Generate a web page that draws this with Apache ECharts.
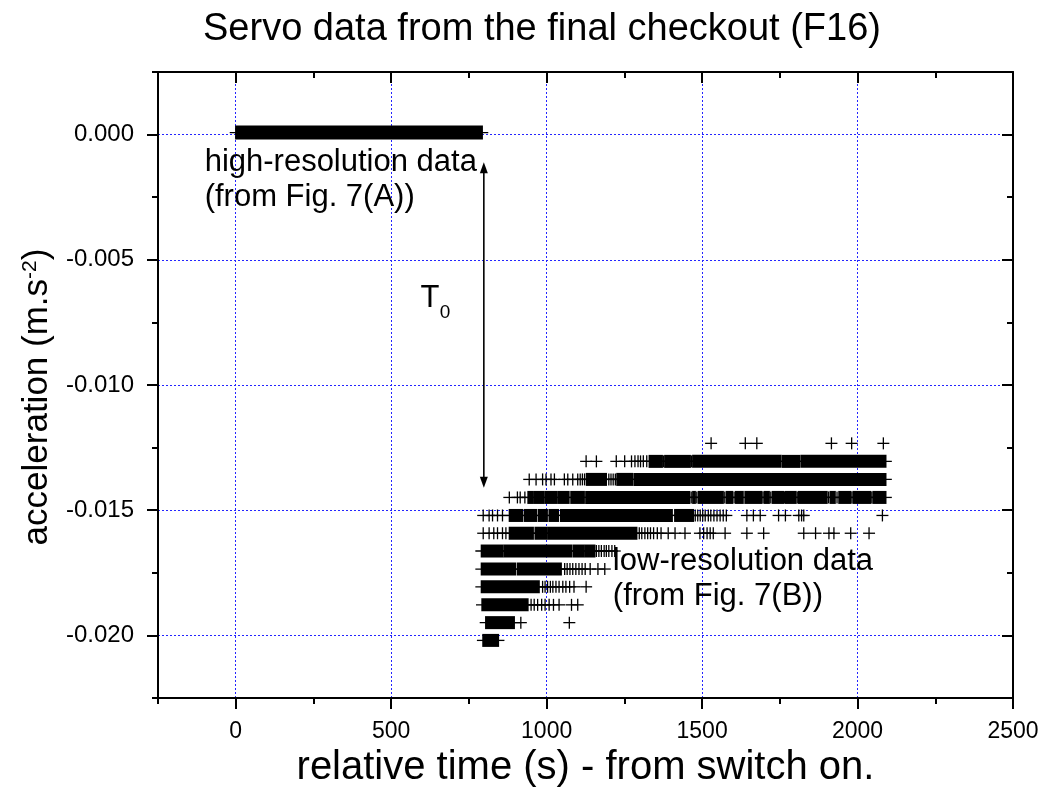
<!DOCTYPE html>
<html>
<head>
<meta charset="utf-8">
<script src="https://cdn.jsdelivr.net/npm/echarts@6/dist/echarts.min.js"></script>
<style>
html, body { margin: 0; padding: 0; background: #ffffff; }
#chart { width: 1045px; height: 798px; }
</style>
</head>
<body>
<div id="chart"></div>
<script>
// ---------------- data ----------------
const timeTicks = [0, 500, 1000, 1500, 2000, 2500];
const accelTicks = [0, -0.005, -0.010, -0.015, -0.020];

// quantised acceleration levels of the low-resolution record (m/s^2)
const L = [-0.01233, -0.01305, -0.01377, -0.01449, -0.01521, -0.01592,
           -0.01663, -0.01735, -0.01806, -0.01878, -0.01949, -0.02020];

// high-resolution record: dense samples [t start, t end, acceleration]
const hiResRuns = [[0, 793, 0.00008]];

// low-resolution record: dense stretches of samples [t start, t end, acceleration]
const lowResRuns = [
  [1330, 1372, L[1]], [1380, 1462, L[1]], [1470, 1754, L[1]], [1759, 1813, L[1]], [1818, 2091, L[1]],
  [1128, 1192, L[2]], [1226, 1276, L[2]], [1281, 2091, L[2]],
  [940, 957, L[3]], [961, 992, L[3]], [996, 1032, L[3]], [1036, 1072, L[3]], [1078, 1121, L[3]],
  [1126, 1460, L[3]], [1470, 1478, L[3]], [1488, 1568, L[3]], [1578, 1598, L[3]], [1608, 1632, L[3]],
  [1638, 1692, L[3]], [1700, 1716, L[3]], [1726, 1762, L[3]], [1768, 1802, L[3]], [1810, 1902, L[3]],
  [1912, 1928, L[3]], [1940, 1978, L[3]], [1986, 2042, L[3]], [2050, 2091, L[3]],
  [880, 922, L[4]], [928, 967, L[4]], [973, 1002, L[4]], [1008, 1038, L[4]], [1045, 1404, L[4]], [1412, 1472, L[4]],
  [880, 957, L[5]], [963, 1002, L[5]], [1006, 1290, L[5]],
  [790, 860, L[6]], [864, 1080, L[6]], [1085, 1121, L[6]], [1125, 1155, L[6]],
  [790, 900, L[7]], [906, 1047, L[7]],
  [790, 976, L[8]],
  [792, 940, L[9]],
  [804, 896, L[10]],
  [795, 845, L[11]]
];

// low-resolution record: isolated samples [t, acceleration]
const lowResPoints = [
  [1529, L[0]], [1639, L[0]], [1676, L[0]], [1916, L[0]], [1981, L[0]], [2083, L[0]],
  [1127, L[1]], [1160, L[1]], [1224, L[1]], [1251, L[1]], [1273, L[1]], [1284, L[1]], [1294, L[1]],
  [1302, L[1]], [1311, L[1]], [1322, L[1]], [1376, L[1]], [1466, L[1]],
  [944, L[2]], [966, L[2]], [987, L[2]], [998, L[2]], [1014, L[2]], [1025, L[2]], [1057, L[2]],
  [1068, L[2]], [1084, L[2]], [1100, L[2]], [1108, L[2]], [1115, L[2]], [1122, L[2]], [1200, L[2]],
  [1207, L[2]], [1214, L[2]], [1221, L[2]],
  [880, L[3]], [906, L[3]], [915, L[3]], [930, L[3]], [1465, L[3]], [1483, L[3]],
  [1573, L[3]], [1603, L[3]], [1696, L[3]], [1721, L[3]], [1765, L[3]],
  [1806, L[3]], [1907, L[3]], [1934, L[3]], [1982, L[3]], [2046, L[3]],
  [796, L[4]], [815, L[4]], [826, L[4]], [842, L[4]], [858, L[4]], [1478, L[4]], [1486, L[4]],
  [1494, L[4]], [1502, L[4]], [1510, L[4]], [1520, L[4]], [1528, L[4]], [1538, L[4]], [1548, L[4]],
  [1558, L[4]], [1568, L[4]], [1578, L[4]], [1644, L[4]], [1665, L[4]], [1687, L[4]], [1746, L[4]],
  [1768, L[4]], [1811, L[4]], [1820, L[4]], [1827, L[4]], [2080, L[4]],
  [796, L[5]], [815, L[5]], [830, L[5]], [842, L[5]], [858, L[5]], [869, L[5]], [1298, L[5]],
  [1306, L[5]], [1316, L[5]], [1325, L[5]], [1334, L[5]], [1344, L[5]], [1356, L[5]], [1368, L[5]],
  [1391, L[5]], [1413, L[5]], [1445, L[5]], [1493, L[5]], [1505, L[5]], [1516, L[5]], [1526, L[5]],
  [1536, L[5]], [1574, L[5]], [1644, L[5]], [1698, L[5]], [1827, L[5]], [1865, L[5]], [1908, L[5]],
  [1924, L[5]], [1978, L[5]], [2037, L[5]],
  [1160, L[6]], [1168, L[6]], [1176, L[6]], [1185, L[6]], [1192, L[6]], [1200, L[6]], [1210, L[6]], [1219, L[6]],
  [1058, L[7]], [1066, L[7]], [1075, L[7]], [1084, L[7]], [1094, L[7]], [1104, L[7]], [1114, L[7]],
  [1124, L[7]], [1140, L[7]], [1165, L[7]], [1187, L[7]],
  [987, L[8]], [995, L[8]], [1003, L[8]], [1012, L[8]], [1020, L[8]], [1030, L[8]], [1040, L[8]],
  [1052, L[8]], [1062, L[8]], [1074, L[8]], [1088, L[8]], [1127, L[8]],
  [950, L[9]], [960, L[9]], [971, L[9]], [984, L[9]], [995, L[9]], [1008, L[9]], [1022, L[9]],
  [1040, L[9]], [1080, L[9]], [1100, L[9]],
  [917, L[10]], [1073, L[10]]
];

// T0 arrow: [t, from acceleration, to acceleration]
const t0Arrow = [[798, -0.0011, -0.0141]];

// annotation texts and their anchors (data coordinates)
const noteText = ['high-resolution data', '(from Fig. 7(A))', 'low-resolution data', '(from Fig. 7(B))', 'T', '0'];
const noteTime = [-100, -100, 1213, 1213, 594, 656];
const noteAccel = [-0.00112, -0.00252, -0.01703, -0.01843, -0.00653, -0.00712];
const noteSize = [31, 31, 31, 31, 31, 19];

// ---------------- drawing ----------------
const FONT = "'Liberation Sans', Arial, Helvetica, sans-serif";
const BLACK = '#000000';
const GRID_BLUE = '#2424ff';
const ARM = 6;
const MARK_W = 1.3;

function plusItem(params, api) {
  const p = api.coord([api.value(0), api.value(1)]);
  return {
    type: 'group',
    children: [
      { type: 'line', shape: { x1: p[0] - ARM, y1: p[1], x2: p[0] + ARM, y2: p[1] }, style: { stroke: BLACK, lineWidth: MARK_W } },
      { type: 'line', shape: { x1: p[0], y1: p[1] - ARM, x2: p[0], y2: p[1] + ARM }, style: { stroke: BLACK, lineWidth: MARK_W } }
    ]
  };
}

function runItem(h) {
  return function (params, api) {
    const a = api.coord([api.value(0), api.value(2)]);
    const b = api.coord([api.value(1), api.value(2)]);
    return {
      type: 'group',
      children: [
        { type: 'rect', shape: { x: a[0] - MARK_W / 2, y: a[1] - h / 2, width: Math.max(b[0] - a[0], 1) + MARK_W, height: h }, style: { fill: BLACK } },
        { type: 'line', shape: { x1: a[0] - ARM, y1: a[1], x2: b[0] + ARM, y2: a[1] }, style: { stroke: BLACK, lineWidth: MARK_W } }
      ]
    };
  };
}

function arrowItem(params, api) {
  const top = api.coord([api.value(0), api.value(1)]);
  const bot = api.coord([api.value(0), api.value(2)]);
  const x = top[0], hl = 11, hw = 4;
  return {
    type: 'group',
    children: [
      { type: 'line', shape: { x1: x, y1: top[1] + hl - 1, x2: x, y2: bot[1] - hl + 1 }, style: { stroke: BLACK, lineWidth: 1.6 } },
      { type: 'polygon', shape: { points: [[x, top[1]], [x - hw, top[1] + hl], [x + hw, top[1] + hl]] }, style: { fill: BLACK } },
      { type: 'polygon', shape: { points: [[x, bot[1]], [x - hw, bot[1] - hl], [x + hw, bot[1] - hl]] }, style: { fill: BLACK } }
    ]
  };
}

function noteItem(params, api) {
  const i = params.dataIndex;
  const p = api.coord([api.value(0), api.value(1)]);
  return {
    type: 'text',
    x: p[0], y: p[1],
    style: {
      text: noteText[i], fontSize: noteSize[i], fontFamily: FONT, fill: BLACK,
      align: 'left', verticalAlign: 'middle', textAlign: 'left', textVerticalAlign: 'middle'
    }
  };
}

const X_MIN = -250, X_MAX = 2500, Y_MIN = -0.0225, Y_MAX = 0.0025;
const frameLine = { show: true, onZero: false, lineStyle: { color: BLACK, width: 2 } };
const noLine = { show: false, onZero: false };
const majorLen = 11, minorLen = 6;
const tickStyle = { color: BLACK, width: 2 };
const gridStyle = { show: true, lineStyle: { color: GRID_BLUE, width: 1, type: [2, 2] } };

const xAxes = [
  {
    type: 'value', position: 'bottom', min: X_MIN, max: X_MAX,
    axisLine: frameLine,
    axisTick: { show: true, customValues: timeTicks, length: majorLen, lineStyle: tickStyle },
    axisLabel: { customValues: timeTicks, formatter: v => String(v), fontFamily: FONT, fontSize: 23, color: BLACK, margin: 22 },
    splitLine: gridStyle,
    name: 'relative time (s) - from switch on.', nameLocation: 'middle', nameGap: 44,
    nameTextStyle: { fontFamily: FONT, fontSize: 40, color: BLACK }
  },
  {
    type: 'value', position: 'bottom', min: X_MIN, max: X_MAX, interval: 250,
    axisLine: noLine, axisTick: { show: true, length: minorLen, lineStyle: tickStyle },
    axisLabel: { show: false }, splitLine: { show: false }
  },
  {
    type: 'value', position: 'top', min: X_MIN, max: X_MAX,
    axisLine: frameLine,
    axisTick: { show: true, inside: true, customValues: timeTicks, length: majorLen, lineStyle: tickStyle },
    axisLabel: { show: false }, splitLine: { show: false }
  },
  {
    type: 'value', position: 'top', min: X_MIN, max: X_MAX, interval: 250,
    axisLine: noLine, axisTick: { show: true, inside: true, length: minorLen, lineStyle: tickStyle },
    axisLabel: { show: false }, splitLine: { show: false }
  }
];

const yAxes = [
  {
    type: 'value', position: 'left', min: Y_MIN, max: Y_MAX,
    axisLine: frameLine,
    axisTick: { show: true, customValues: accelTicks, length: majorLen, lineStyle: tickStyle },
    axisLabel: { customValues: accelTicks, formatter: v => v.toFixed(3), fontFamily: FONT, fontSize: 24, color: BLACK, margin: 24 },
    splitLine: gridStyle,
    name: 'acceleration (m.s{sup|-2})', nameLocation: 'middle', nameGap: 96,
    nameTextStyle: {
      fontFamily: FONT, fontSize: 35, color: BLACK, padding: [0, 24, 0, 0],
      rich: { sup: { fontFamily: FONT, fontSize: 21, color: BLACK, verticalAlign: 'top' } }
    }
  },
  {
    type: 'value', position: 'left', min: Y_MIN, max: Y_MAX, interval: 0.0025,
    axisLine: noLine, axisTick: { show: true, length: minorLen, lineStyle: tickStyle },
    axisLabel: { show: false }, splitLine: { show: false }
  },
  {
    type: 'value', position: 'right', min: Y_MIN, max: Y_MAX,
    axisLine: frameLine,
    axisTick: { show: true, inside: true, customValues: accelTicks, length: majorLen, lineStyle: tickStyle },
    axisLabel: { show: false }, splitLine: { show: false }
  },
  {
    type: 'value', position: 'right', min: Y_MIN, max: Y_MAX, interval: 0.0025,
    axisLine: noLine, axisTick: { show: true, inside: true, length: minorLen, lineStyle: tickStyle },
    axisLabel: { show: false }, splitLine: { show: false }
  }
];

const option = {
  animation: false,
  backgroundColor: '#ffffff',
  grid: { left: 158, right: 32, top: 72, bottom: 100, containLabel: false },
  xAxis: xAxes,
  yAxis: yAxes,
  graphic: [{
    type: 'text', x: 542, y: 30, z: 10,
    style: {
      text: 'Servo data from the final checkout (F16)', fontFamily: FONT, fontSize: 38, fill: BLACK,
      align: 'center', verticalAlign: 'middle', textAlign: 'center', textVerticalAlign: 'middle'
    }
  }],
  series: [
    {
      name: 'high-resolution', type: 'custom', xAxisIndex: 0, yAxisIndex: 0, z: 3,
      data: hiResRuns, encode: { x: [0, 1], y: 2 }, renderItem: runItem(14)
    },
    {
      name: 'low-resolution runs', type: 'custom', xAxisIndex: 0, yAxisIndex: 0, z: 3,
      data: lowResRuns, encode: { x: [0, 1], y: 2 }, renderItem: runItem(13)
    },
    {
      name: 'low-resolution points', type: 'custom', xAxisIndex: 0, yAxisIndex: 0, z: 3,
      data: lowResPoints, encode: { x: 0, y: 1 }, renderItem: plusItem
    },
    {
      name: 'T0', type: 'custom', xAxisIndex: 0, yAxisIndex: 0, z: 4,
      data: t0Arrow, encode: { x: 0, y: [1, 2] }, renderItem: arrowItem
    },
    {
      name: 'notes', type: 'custom', xAxisIndex: 0, yAxisIndex: 0, z: 5,
      data: noteTime.map((t, i) => [t, noteAccel[i]]), encode: { x: 0, y: 1 }, renderItem: noteItem
    }
  ]
};

const chart = echarts.init(document.getElementById('chart'), null, { renderer: 'canvas' });
chart.setOption(option);
</script>
</body>
</html>
